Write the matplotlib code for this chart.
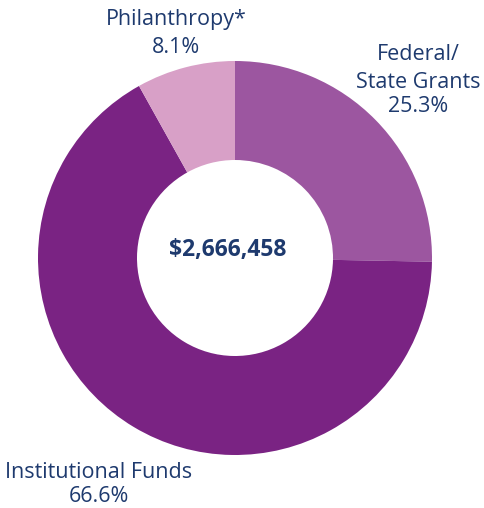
import matplotlib
matplotlib.use('Agg')
import matplotlib.pyplot as plt

# ── DATA ───────────────────────────────────────────────────────────────────
LABELS  = ['Federal/\nState Grants', 'Institutional Funds', 'Philanthropy*']
SHARES  = [25.3, 66.6, 8.1]
TOTAL   = '$2,666,458'

COLORS  = ['#9C56A0', '#7A2383', '#D8A0C7']
NAVY    = '#1E3A6E'

plt.rcParams['font.family'] = ['Open Sans', 'DejaVu Sans']

# ── PLOT ───────────────────────────────────────────────────────────────────
W, H = 484, 508
fig = plt.figure(figsize=(W / 100, H / 100), dpi=100)
ax = fig.add_axes([0, 0, 1, 1])
ax.axis('off')

cx, cy, R = 235, H - 258, 197
ax.pie(SHARES, colors=COLORS, startangle=90, counterclock=False,
       center=(cx, cy), radius=R,
       wedgeprops=dict(width=R - 98, linewidth=0))
ax.set_xlim(0, W)
ax.set_ylim(0, H)
ax.set_aspect('equal')

ax.text(228, H - 256, TOTAL, ha='center', va='baseline',
        fontsize=16.5, fontweight='bold', color=NAVY)

# baselines in pixels from the top; one entry per text line
label_x  = [418, 99, 176]
label_bl = [[60, 88], [478], [25]]
pct_bl   = [112, 502, 53]
for lab, pct, lx, bls, pb in zip(LABELS, SHARES, label_x, label_bl, pct_bl):
    for line, b in zip(lab.split('\n'), bls):
        ax.text(lx, H - b, line, ha='center', va='baseline', fontsize=15.5,
                color=NAVY)
    ax.text(lx, H - pb, f'{pct}%', ha='center', va='baseline', fontsize=15.5,
            color=NAVY)

fig.savefig('out.png', dpi=100)
